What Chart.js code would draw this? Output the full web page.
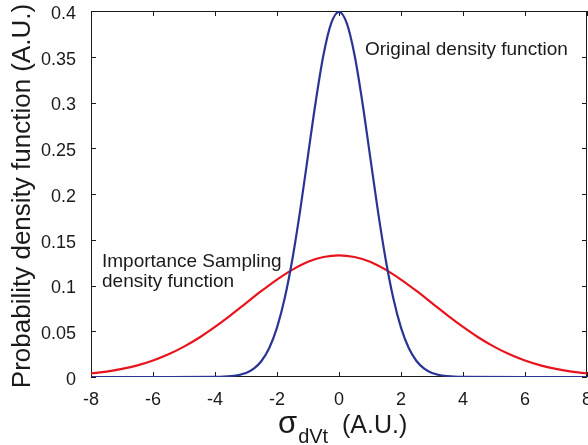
<!DOCTYPE html>
<html>
<head>
<meta charset="utf-8">
<script src="https://cdn.jsdelivr.net/npm/chart.js@4"></script>
<style>
  body { margin: 0; background: #fff; }
  canvas { display: block; }
</style>
</head>
<body>
<canvas id="chart" width="588" height="445"></canvas>
<script>
// valeurs

const xOriginal = [-8, -6, -4, -3.5, -3, -2.75, -2.5, -2.25, -2, -1.75, -1.5, -1.25, -1, -0.75, -0.5, -0.25,
    0, 0.25, 0.5, 0.75, 1, 1.25, 1.5, 1.75, 2, 2.25, 2.5, 2.75, 3, 3.5, 4, 6, 8];
const yOriginal = [0, 0, 0.0001, 0.0009, 0.0044, 0.0091, 0.0175, 0.0317, 0.054, 0.0863, 0.1295, 0.1826, 0.242, 0.3011, 0.3521, 0.3867,
    0.3989, 0.3867, 0.3521, 0.3011, 0.242, 0.1826, 0.1295, 0.0863, 0.054, 0.0317, 0.0175, 0.0091, 0.0044, 0.0009, 0.0001, 0, 0];

const xSampling = [-8, -7.5, -7, -6.5, -6, -5.5, -5, -4.5, -4, -3.5, -3, -2.5, -2, -1.5, -1, -0.5,
    0, 0.5, 1, 1.5, 2, 2.5, 3, 3.5, 4, 4.5, 5, 5.5, 6, 6.5, 7, 7.5, 8];
const ySampling = [0.0038, 0.0058, 0.0088, 0.0127, 0.018, 0.0248, 0.0332, 0.0432, 0.0547, 0.0673, 0.0807, 0.094, 0.1065, 0.1174, 0.126, 0.1311,
    0.133, 0.1311, 0.126, 0.1174, 0.1065, 0.094, 0.0807, 0.0673, 0.0547, 0.0432, 0.0332, 0.0248, 0.018, 0.0127, 0.0088, 0.0058, 0.0038];

const xTicks = [-8, -6, -4, -2, 0, 2, 4, 6, 8];
const yTicks = [0, 0.05, 0.1, 0.15, 0.2, 0.25, 0.3, 0.35, 0.4];

const FONT = "'Liberation Sans', Arial, Helvetica, sans-serif";
const INK = '#1a1a1a';

function toPoints(xs, ys) {
    return xs.map((x, i) => ({ x: x, y: ys[i] }));
}

// cadre et graduations vers l'intérieur (style MATLAB)
const cadrePlugin = {
    id: 'cadre',
    beforeDatasetsDraw(chart) {
        const ctx = chart.ctx;
        const a = chart.chartArea;
        const sx = chart.scales.x, sy = chart.scales.y;
        const len = 5;
        ctx.save();
        ctx.strokeStyle = INK;
        ctx.lineWidth = 1;
        ctx.beginPath();
        ctx.rect(a.left + 0.5, a.top + 0.5, a.right - a.left - 1, a.bottom - a.top - 1);
        xTicks.forEach(v => {
            const px = Math.round(sx.getPixelForValue(v)) + 0.5;
            ctx.moveTo(px, a.bottom);
            ctx.lineTo(px, a.bottom - len);
            ctx.moveTo(px, a.top);
            ctx.lineTo(px, a.top + len);
        });
        yTicks.forEach(v => {
            const py = Math.round(sy.getPixelForValue(v)) + 0.5;
            ctx.moveTo(a.left, py);
            ctx.lineTo(a.left + len, py);
            ctx.moveTo(a.right, py);
            ctx.lineTo(a.right - len, py);
        });
        ctx.stroke();
        ctx.restore();
    },
    afterDraw(chart) {
        const ctx = chart.ctx;
        ctx.save();
        ctx.fillStyle = INK;
        ctx.textBaseline = 'alphabetic';

        // annotations
        ctx.textAlign = 'left';
        ctx.font = '19px ' + FONT;
        ctx.fillText('Original density function', 365, 55);
        ctx.fillText('Importance Sampling', 102, 267);
        ctx.fillText('density function', 102, 287);

        // titre axe y
        ctx.save();
        ctx.translate(30, 196);
        ctx.rotate(-Math.PI / 2);
        ctx.textAlign = 'center';
        ctx.font = '26px ' + FONT;
        ctx.fillText('Probability density function (A.U.)', 0, 0);
        ctx.restore();

        // titre axe x : sigma indice dVt
        ctx.textAlign = 'left';
        let x = 278;
        ctx.font = '31px ' + FONT;
        ctx.fillText('σ', x, 433);
        x += ctx.measureText('σ').width + 1;
        ctx.font = '20px ' + FONT;
        ctx.fillText('dVt', x, 443);
        ctx.font = '25px ' + FONT;
        ctx.fillText('(A.U.)', 342, 433);
        ctx.restore();
    }
};

new Chart(document.getElementById('chart'), {
    type: 'line',
    data: {
        datasets: [
            {
                label: 'Original density function',
                data: toPoints(xOriginal, yOriginal),
                borderColor: '#2a3593',
                borderWidth: 2.2,
                pointRadius: 0,
                cubicInterpolationMode: 'monotone',
                fill: false
            },
            {
                label: 'Importance Sampling density function',
                data: toPoints(xSampling, ySampling),
                borderColor: '#e8141d',
                borderWidth: 2.2,
                pointRadius: 0,
                cubicInterpolationMode: 'monotone',
                fill: false
            }
        ]
    },
    options: {
        responsive: false,
        animation: false,
        layout: { padding: { top: 11, right: 1, left: 0, bottom: 0 } },
        plugins: {
            legend: { display: false },
            tooltip: { enabled: false }
        },
        scales: {
            x: {
                type: 'linear',
                min: -8,
                max: 8,
                afterBuildTicks: s => { s.ticks = xTicks.map(v => ({ value: v })); },
                afterFit: s => { s.height = 68; s.paddingLeft = 0; s.paddingRight = 0; },
                grid: { display: false },
                border: { display: false },
                ticks: {
                    color: INK,
                    padding: 4,
                    maxRotation: 0,
                    font: { family: FONT, size: 18 }
                }
            },
            y: {
                min: 0,
                max: 0.4,
                afterBuildTicks: s => { s.ticks = yTicks.map(v => ({ value: v })); },
                afterFit: s => { s.width = 91; s.paddingTop = 0; s.paddingBottom = 0; },
                grid: { display: false },
                border: { display: false },
                ticks: {
                    color: INK,
                    padding: 7,
                    labelOffset: 3,
                    font: { family: FONT, size: 18 },
                    callback: v => String(+v.toFixed(2))
                }
            }
        }
    },
    plugins: [cadrePlugin]
});
</script>
</body>
</html>
